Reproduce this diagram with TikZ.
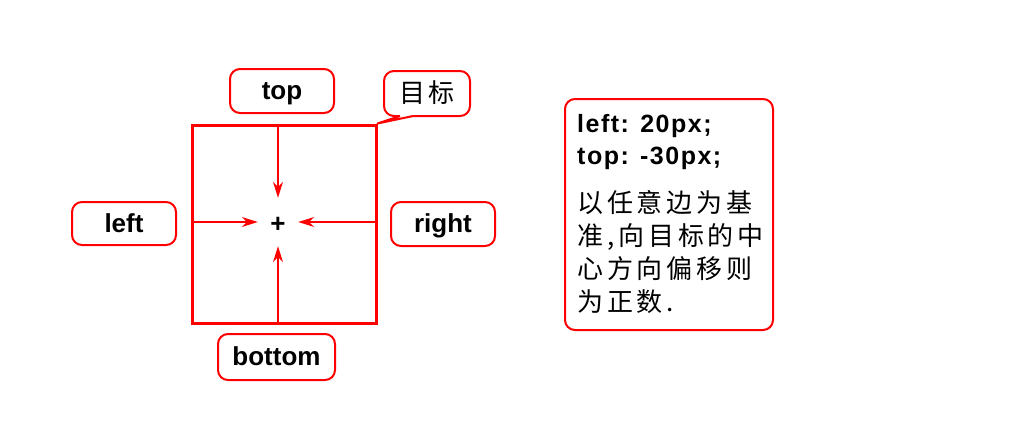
\documentclass[tikz,border=0pt]{standalone}
\usepackage{fontspec}
\setmainfont{Liberation Sans}
\newfontfamily\notefont[LetterSpace=6]{Liberation Sans}
\newfontfamily\cjkls[LetterSpace=15]{Noto Sans CJK SC}
\usetikzlibrary{arrows.meta}
\begin{document}
\begin{tikzpicture}[x=1pt,y=-1pt,
  lbl/.style={draw=red, line width=2pt, rounded corners=10pt, fill=white, inner sep=0pt,
    text height=17pt, text depth=0pt, font=\fontsize{26}{30}\selectfont\bfseries},
  arr/.style={draw=red, line width=1.6pt, -{Stealth[length=16pt,width=10pt]}},
  bold/.style={font=\fontsize{25}{29}\selectfont\notefont\bfseries, inner sep=0pt, anchor=base west},
  cjktxt/.style={font=\fontsize{26}{30}\selectfont\cjkls, inner sep=0pt, anchor=base west}]
\useasboundingbox (0,0) rectangle (1024,437);
% target square
\node[draw=red, line width=3pt, minimum width=184pt, minimum height=198pt, inner sep=0pt] (sq) at (284,224) {};
\node[font=\fontsize{26}{30}\selectfont\bfseries, inner sep=0pt, text height=21pt, text depth=0pt,
  minimum width=40pt, minimum height=48pt] (c) at (278,222) {+};
% labels
\node[lbl, minimum width=104pt, minimum height=44pt] (top) at (282,91) {top};
\node[lbl, minimum width=104pt, minimum height=43pt] (left) at (124,223.5) {left};
\node[lbl, minimum width=104pt, minimum height=44pt] (right) at (443,224) {right};
\node[lbl, minimum width=117pt, minimum height=46pt] (bottom) at (276.5,357) {bottom};
% callout
\node[lbl, minimum width=86pt, minimum height=45pt, font=\fontsize{26}{30}\selectfont\cjkls] (tg) at (427,93.5) {目标};
\coordinate (tip) at (sq.north east);
\fill[white] (400,113) -- (413,113) -- (413,116) -- (tip) -- (400,116) -- cycle;
\draw[red, line width=2pt, line join=round] (400,116) -- (tip) -- (413,116);
% arrows
\draw[arr] (c |- sq.north) -- (c.north);
\draw[arr] (c |- sq.south) -- (c.south);
\draw[arr] (sq.west |- c) -- (c.west);
\draw[arr] (sq.east |- c) -- (c.east);
% note box
\node[draw=red, line width=2pt, rounded corners=10pt, minimum width=208pt, minimum height=231pt, inner sep=0pt] (note) at (669,214.5) {};
\node[bold] (n1) at (577,132) {left: 20px;};
\node[bold] (n2) at (577,164) {top: -30px;};
\node[cjktxt] (n3) at (577,212) {以任意边为基};
\node[cjktxt] (n4) at (577,245) {准,向目标的中};
\node[cjktxt] (n5) at (577,278) {心方向偏移则};
\node[cjktxt] (n6) at (577,311) {为正数.};
\end{tikzpicture}
\end{document}
